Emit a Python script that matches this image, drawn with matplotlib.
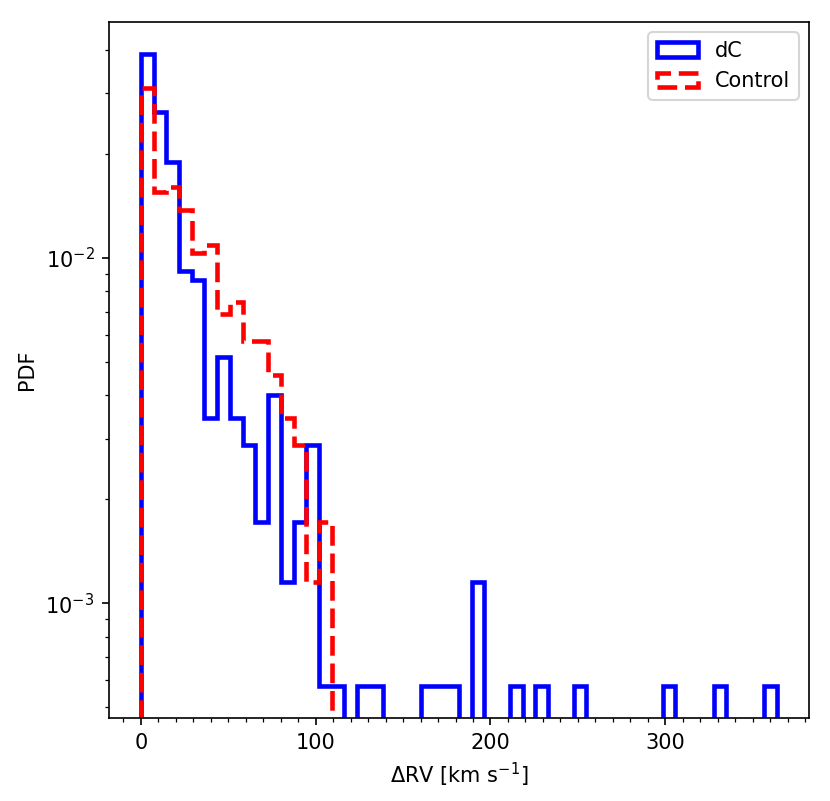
import numpy as np
import matplotlib
matplotlib.use( 'Agg' )
import matplotlib.pyplot as plt
from matplotlib.ticker import MultipleLocator

# Data : counts per bin (50 bins from 0 to 364 km/s)
rv_min = 0.0
rv_max = 364.0
n_bins = 50

dC_counts = [ 68 , 46 , 33 , 16 , 15 , 6 , 9 , 6 , 5 , 3 ,
              7 , 2 , 3 , 5 , 1 , 1 , 0 , 1 , 1 , 0 ,
              0 , 0 , 1 , 1 , 1 , 0 , 2 , 0 , 0 , 1 ,
              0 , 1 , 0 , 0 , 1 , 0 , 0 , 0 , 0 , 0 ,
              0 , 1 , 0 , 0 , 0 , 1 , 0 , 0 , 0 , 1 ]

control_counts = [ 54 , 27 , 28 , 24 , 18 , 19 , 12 , 13 , 10 , 10 ,
                   8 , 6 , 5 , 2 , 3 ] + [ 0 ] * 35

labels = [ 'dC' , 'Control' ]

# Bins
edges = np.linspace( rv_min , rv_max , n_bins + 1 )
centers = 0.5 * ( edges[ :-1 ] + edges[ 1: ] )

# Plot parameters
plt.rcParams[ 'font.size' ] = 10

fig = plt.figure( figsize = ( 830 / 150 , 801 / 150 ) , dpi = 150 )
ax = fig.add_axes( [ 109 / 830 , 1 - 718 / 801 , 700 / 830 , 696 / 801 ] )

ax.hist( centers , bins = edges , weights = dC_counts , density = True , histtype = 'step' ,
         color = 'b' , linewidth = 2.2 , log = True , label = labels[ 0 ] )
ax.hist( centers , bins = edges , weights = control_counts , density = True , histtype = 'step' ,
         color = 'r' , linewidth = 2.2 , linestyle = ( 0 , ( 4.3 , 1.7 ) ) , log = True , label = labels[ 1 ] )

# Axes
ax.xaxis.set_major_locator( MultipleLocator( 100 ) )
ax.xaxis.set_minor_locator( MultipleLocator( 10 ) )
ax.set_xlabel( r'$\Delta$RV [km s$^{-1}$]' )
ax.set_ylabel( 'PDF' )
ax.legend( loc = 'upper right' )

plt.savefig( 'out.png' , dpi = 150 )
